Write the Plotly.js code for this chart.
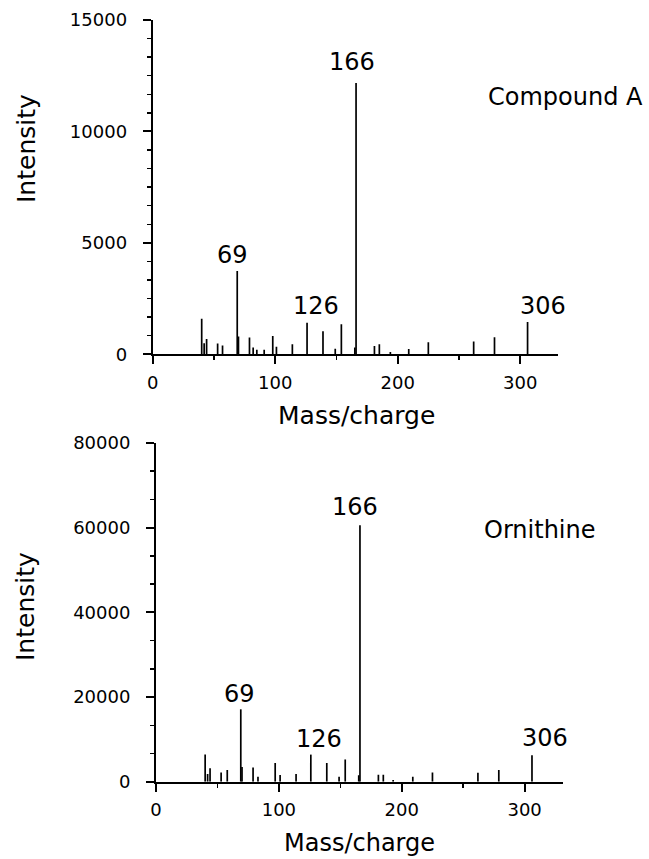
<!DOCTYPE html>
<html>
<head>
<meta charset="utf-8">
<script src="https://cdn.plot.ly/plotly-3.0.1.min.js"></script>
<style>html,body{margin:0;padding:0;background:#fff;}#chart{width:649px;height:859px;}</style>
</head>
<body>
<div id="chart"></div>
<script>
// Compound A spectrum (m/z, intensity)
var mzA  = [40, 42, 44, 53, 57, 69, 70, 79, 82, 85, 91, 98, 101, 114, 126, 139, 149, 154, 165, 166, 181, 185, 194, 209, 225, 262, 279, 306];
var intA = [1600, 500, 690, 490, 400, 3740, 800, 750, 300, 200, 200, 820, 340, 450, 1420, 1030, 250, 1350, 300, 12170, 370, 450, 100, 240, 540, 570, 760, 1450];
// Ornithine spectrum (m/z, intensity)
var mzO  = [40, 42, 44, 53, 58, 69, 70, 79, 83, 97, 101, 114, 126, 139, 149, 154, 165, 166, 181, 185, 193, 209, 225, 262, 279, 306];
var intO = [6410, 1800, 3200, 2200, 2740, 17100, 3500, 3370, 1170, 4400, 1600, 1800, 6400, 4400, 1170, 5250, 1500, 60600, 1650, 1650, 400, 1170, 2200, 2100, 2740, 6240];
// labelled peaks
var labelPeaks = ["69", "126", "166", "306"];
var yTicksA = [0, 5000, 10000, 15000];
var yTicksO = [0, 20000, 40000, 60000, 80000];
var xTicks = [0, 100, 200, 300];

function sticks(mz, inten) {
  var x = [], y = [];
  for (var i = 0; i < mz.length; i++) {
    x.push(mz[i], mz[i], null);
    y.push(0, inten[i], null);
  }
  return {x: x, y: y};
}
var sA = sticks(mzA, intA), sO = sticks(mzO, intO);
var FONT = "DejaVu Sans";
var traces = [
  {x: sA.x, y: sA.y, type: "scatter", mode: "lines", line: {color: "#000", width: 1.7}, xaxis: "x", yaxis: "y", hoverinfo: "skip", showlegend: false},
  {x: sO.x, y: sO.y, type: "scatter", mode: "lines", line: {color: "#000", width: 1.7}, xaxis: "x2", yaxis: "y2", hoverinfo: "skip", showlegend: false}
];

function xax(dom) {
  return {domain: dom, range: [0, 331], tickvals: xTicks, ticktext: xTicks.map(String), ticks: "outside", ticklen: 8, tickwidth: 2, tickcolor: "#000",
    minor: {dtick: 50, tick0: 0, ticks: "outside", ticklen: 4, tickwidth: 1.5, tickcolor: "#000", showgrid: false},
    showline: true, linewidth: 2, linecolor: "#000", showgrid: false, zeroline: false, automargin: false,
    tickfont: {family: FONT, size: 18, color: "#000"}, ticklabelstandoff: 3};
}
function yax(dom, rng, tv, minorD) {
  return {domain: dom, range: rng, tickvals: tv, ticktext: tv.map(String), ticks: "outside", ticklen: 8, tickwidth: 2, tickcolor: "#000",
    minor: {dtick: minorD, tick0: 0, ticks: "outside", ticklen: 4, tickwidth: 1.5, tickcolor: "#000", showgrid: false},
    showline: true, linewidth: 2, linecolor: "#000", showgrid: false, zeroline: false, automargin: false,
    tickfont: {family: FONT, size: 18, color: "#000"}, ticklabelstandoff: 12};
}

var W = 649, H = 859;
function px(x) { return x / W; }
function py(y) { return 1 - y / H; }

var layout = {
  width: W, height: H,
  margin: {l: 0, r: 0, t: 0, b: 0},
  paper_bgcolor: "#fff", plot_bgcolor: "#fff",
  xaxis: xax([px(152.7), px(558.2)]),
  yaxis: yax([py(354.3), py(20)], [0, 15000], yTicksA, 5000 / 6),
  xaxis2: Object.assign(xax([px(156), px(562.7)]), {anchor: "y2"}),
  yaxis2: Object.assign(yax([py(781.7), py(443)], [0, 80000], yTicksO, 20000 / 3), {anchor: "x2"}),
  annotations: [
    {text: labelPeaks[2], x: 162.7, y: 13100, xref: "x", yref: "y", showarrow: false, font: {family: FONT, size: 24, color: "#000"}},
    {text: labelPeaks[0], x: 65.1, y: 4460, xref: "x", yref: "y", showarrow: false, font: {family: FONT, size: 24, color: "#000"}},
    {text: labelPeaks[1], x: 133.1, y: 2180, xref: "x", yref: "y", showarrow: false, font: {family: FONT, size: 24, color: "#000"}},
    {text: labelPeaks[3], x: 318.6, y: 2180, xref: "x", yref: "y", showarrow: false, font: {family: FONT, size: 24, color: "#000"}},
    {text: labelPeaks[2], x: 162.2, y: 64960, xref: "x2", yref: "y2", showarrow: false, font: {family: FONT, size: 24, color: "#000"}},
    {text: labelPeaks[0], x: 68.3, y: 20750, xref: "x2", yref: "y2", showarrow: false, font: {family: FONT, size: 24, color: "#000"}},
    {text: labelPeaks[1], x: 132.5, y: 9990, xref: "x2", yref: "y2", showarrow: false, font: {family: FONT, size: 24, color: "#000"}},
    {text: labelPeaks[3], x: 316.3, y: 10220, xref: "x2", yref: "y2", showarrow: false, font: {family: FONT, size: 24, color: "#000"}},
    {text: "Compound A", x: px(486), y: py(97), xref: "paper", yref: "paper", xanchor: "left", yanchor: "middle", showarrow: false, font: {family: FONT, size: 24, color: "#000"}},
    {text: "Ornithine", x: px(482), y: py(530), xref: "paper", yref: "paper", xanchor: "left", yanchor: "middle", showarrow: false, font: {family: FONT, size: 24, color: "#000"}},
    {text: "Mass/charge", x: px(356), y: py(415), xref: "paper", yref: "paper", xanchor: "center", yanchor: "middle", showarrow: false, font: {family: FONT, size: 25, color: "#000"}},
    {text: "Mass/charge", x: px(359), y: py(843), xref: "paper", yref: "paper", xanchor: "center", yanchor: "middle", showarrow: false, font: {family: FONT, size: 24, color: "#000"}},
    {text: "Intensity", x: px(26), y: py(149), xref: "paper", yref: "paper", xanchor: "center", yanchor: "middle", textangle: -90, showarrow: false, font: {family: FONT, size: 25, color: "#000"}},
    {text: "Intensity", x: px(25), y: py(607), xref: "paper", yref: "paper", xanchor: "center", yanchor: "middle", textangle: -90, showarrow: false, font: {family: FONT, size: 25, color: "#000"}}
  ]
};
Plotly.newPlot("chart", traces, layout, {staticPlot: true, displayModeBar: false});
</script>
</body>
</html>
